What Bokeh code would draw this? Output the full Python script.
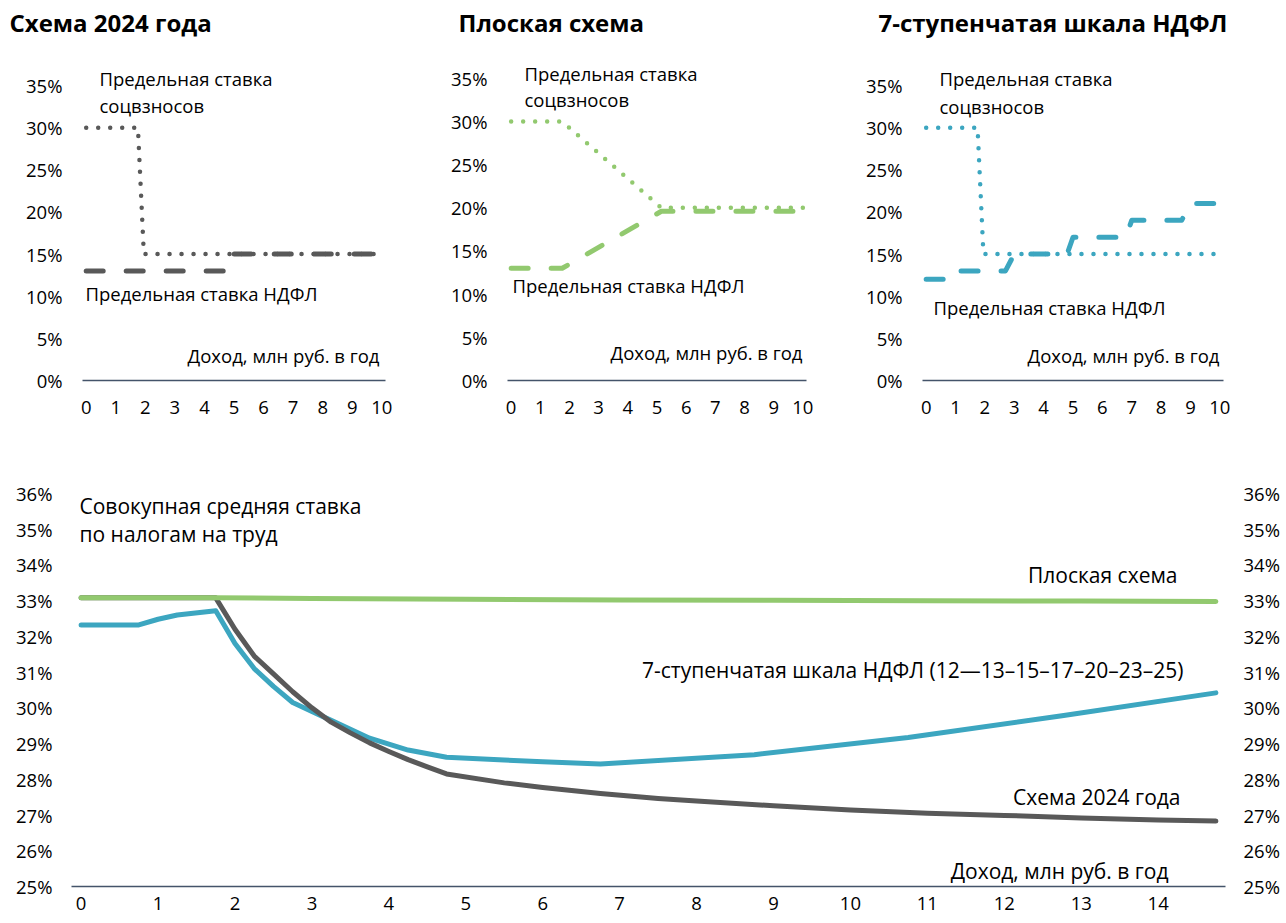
from bokeh.plotting import figure
from bokeh.models import Label, LinearAxis, FixedTicker, PrintfTickFormatter, Range1d
from bokeh.layouts import column, row
from bokeh.embed import file_html
from bokeh.resources import INLINE

FONT = "Open Sans"
TICK_SIZE = "18.5px"
TOP_TEXT = "18.5px"
BOT_TEXT = "21px"
TITLE_SIZE = "24px"

# ---------------- data ----------------
top_x_ticks = list(range(0, 11))
top_y_ticks = [0, 5, 10, 15, 20, 25, 30, 35]
titles = ["Схема 2024 года", "Плоская схема", "7-ступенчатая шкала НДФЛ"]

# Panel 1: scheme 2024
p1_soc_x = [0, 1.75, 1.95, 10]
p1_soc_y = [30, 30, 15, 15]
p1_ndfl_x = [0, 4.8, 5.0, 10]
p1_ndfl_y = [13, 13, 15, 15]

# Panel 2: flat scheme
p2_soc_x = [0, 1.75, 5.15, 10]
p2_soc_y = [30, 30, 20, 20]
p2_ndfl_x = [0, 1.75, 5.15, 10]
p2_ndfl_y = [13, 13, 19.6, 19.6]

# Panel 3: 7-step NDFL scale
p3_soc_x = [0, 1.75, 1.95, 10]
p3_soc_y = [30, 30, 15, 15]
p3_ndfl_x = [0, 0.85, 1.0, 2.7, 3.0, 4.8, 5.0, 6.8, 7.0, 8.7, 9.0, 10]
p3_ndfl_y = [12, 12, 13, 13, 15, 15, 17, 17, 19, 19, 21, 21]

# Bottom: total average rate on labour
bottom_x_ticks = list(range(0, 15))
bottom_y_ticks = list(range(25, 37))

flat_x = [0, 1.75, 3, 5, 7, 9, 11, 13, 14.75]
flat_y = [33.08, 33.08, 33.06, 33.04, 33.02, 33.01, 33.0, 32.99, 32.98]

step7_x = [0, 0.75, 1.0, 1.25, 1.75, 2.0, 2.25, 2.5, 2.75, 3.0, 3.25, 3.75, 4.25, 4.75,
           5.5, 6.0, 6.75, 8.75, 10.75, 12.75, 14.75]
step7_y = [32.32, 32.32, 32.48, 32.6, 32.72, 31.8, 31.1, 30.6, 30.15, 29.9, 29.65, 29.15, 28.82, 28.62,
           28.54, 28.49, 28.43, 28.69, 29.17, 29.78, 30.42]

s2024_x = [0, 1.75, 2.0, 2.25, 2.5, 2.75, 3.0, 3.25, 3.5, 3.75, 4.0, 4.25, 4.5, 4.75,
           5.5, 6.0, 6.75, 7.5, 8.0, 9.0, 10.0, 11.0, 12.0, 13.0, 14.0, 14.75]
s2024_y = [33.08, 33.08, 32.2, 31.45, 30.95, 30.45, 30.0, 29.6, 29.3, 29.02, 28.78, 28.55, 28.35, 28.15,
           27.9, 27.77, 27.6, 27.46, 27.39, 27.26, 27.14, 27.05, 26.99, 26.92, 26.86, 26.83]

GRAY = "#595959"
GREEN = "#92C96F"
TEAL = "#3CA6C0"
AXIS = "#44546A"
TXT = "#000000"


class Geom:
    """Figure placed at page (x0, y0) with size W x H; frame edges L, R, T, B in local px."""
    def __init__(self, x0, y0, W, H, L, R, T, B, xr, yr):
        self.x0, self.y0, self.W, self.H = x0, y0, W, H
        self.L, self.R, self.T, self.B = L, R, T, B
        self.xr, self.yr = xr, yr

    def x(self, px):
        a, b = self.xr
        return a + (px - self.x0 - self.L) / (self.R - self.L) * (b - a)

    def y(self, py):
        a, b = self.yr
        return b - (py - self.y0 - self.T) / (self.B - self.T) * (b - a)


def make_fig(g, axes=True):
    kw = {}
    if not axes:
        kw = dict(x_axis_type=None, y_axis_type=None)
    p = figure(width=g.W, height=g.H, output_backend="svg", toolbar_location=None,
               x_range=Range1d(*g.xr), y_range=Range1d(*g.yr),
               min_border_left=g.L, min_border_right=g.W - g.R,
               min_border_top=g.T, min_border_bottom=g.H - g.B, **kw)
    p.outline_line_color = None
    p.grid.visible = False
    p.border_fill_color = "white"
    p.background_fill_color = "white"
    return p


def style_x(ax, ticks, standoff):
    ax.ticker = FixedTicker(ticks=ticks)
    ax.axis_line_color = AXIS
    ax.axis_line_width = 1.6
    ax.major_tick_line_color = None
    ax.minor_tick_line_color = None
    ax.major_tick_out = 0
    ax.major_tick_in = 0
    ax.major_label_standoff = standoff
    ax.major_label_text_font = FONT
    ax.major_label_text_font_size = TICK_SIZE
    ax.major_label_text_color = TXT


def style_y(ax, ticks, standoff):
    ax.ticker = FixedTicker(ticks=ticks)
    ax.formatter = PrintfTickFormatter(format="%d%%")
    ax.axis_line_color = None
    ax.major_tick_line_color = None
    ax.minor_tick_line_color = None
    ax.major_tick_out = 0
    ax.major_tick_in = 0
    ax.major_label_standoff = standoff
    ax.major_label_text_font = FONT
    ax.major_label_text_font_size = TICK_SIZE
    ax.major_label_text_color = TXT


def add_text(p, g, text, px, py, align="left", bold=False, size=TOP_TEXT):
    p.add_layout(Label(x=g.x(px), y=g.y(py), text=text, text_align=align,
                       text_baseline="middle", text_font=FONT, text_font_size=size,
                       text_font_style="bold" if bold else "normal", text_color=TXT))


def top_geom(x0, W, L, R, zero_px, top_tick_px, frame_top_page=50, y0=45, H=395):
    ymax = 35 * (zero_px - frame_top_page) / (zero_px - top_tick_px)
    return Geom(x0, y0, W, H, L, R, frame_top_page - y0, zero_px - y0,
                (-0.125, 10.125), (0, ymax))


def top_panel(g, soc_x, soc_y, ndfl_x, ndfl_y, color, soc_lbl, ndfl_lbl, inc_lbl):
    p = make_fig(g)
    style_x(p.xaxis[0], top_x_ticks, 20)
    style_y(p.yaxis[0], top_y_ticks, 20)
    p.line(ndfl_x, ndfl_y, line_color=color, line_width=5, line_dash="17 23",
           line_cap="round", line_join="round")
    p.line(soc_x, soc_y, line_color=color, line_width=4.5, line_dash="0 12",
           line_cap="round", line_join="round")
    add_text(p, g, "Предельная ставка", soc_lbl[0], soc_lbl[1])
    add_text(p, g, "соцвзносов", soc_lbl[0], soc_lbl[2])
    add_text(p, g, "Предельная ставка НДФЛ", ndfl_lbl[0], ndfl_lbl[1])
    add_text(p, g, "Доход, млн руб. в год", inc_lbl[0], inc_lbl[1], align="right")
    return p


# ---------------- title strip (three blank figures, one per panel) ----------------
title_figs = []
for t, x0, W, px in zip(titles, [0, 430, 858], [430, 428, 428], [9, 458, 878]):
    gt = Geom(x0, 0, W, 45, 0, W, 0, 45, (0, W), (0, 45))
    pt = make_fig(gt, axes=False)
    add_text(pt, gt, t, px, 22, bold=True, size=TITLE_SIZE)
    title_figs.append(pt)

# ---------------- top panels ----------------
g1 = top_geom(0, 430, 82, 385, 380, 85)
g2 = top_geom(430, 428, 77, 376, 382, 78)
g3 = top_geom(858, 428, 64, 365, 380, 85)

p1 = top_panel(g1, p1_soc_x, p1_soc_y, p1_ndfl_x, p1_ndfl_y, GRAY,
               (99, 78, 105), (85, 293), (379, 355))
p2 = top_panel(g2, p2_soc_x, p2_soc_y, p2_ndfl_x, p2_ndfl_y, GREEN,
               (524, 73, 99), (512, 286), (802, 354))
p3 = top_panel(g3, p3_soc_x, p3_soc_y, p3_ndfl_x, p3_ndfl_y, TEAL,
               (939, 78, 106), (933, 307), (1219, 355))

# ---------------- bottom chart ----------------
bot_top_page = 478
bot_ymax = 25 + 11 * (886 - bot_top_page) / (886 - 493)
g4 = Geom(0, 440, 1286, 483, 71, 1225, bot_top_page - 440, 446, (-0.125, 14.875), (25, bot_ymax))
p4 = make_fig(g4)
style_x(p4.xaxis[0], bottom_x_ticks, 10)
style_y(p4.yaxis[0], bottom_y_ticks, 19)
ry = LinearAxis()
style_y(ry, bottom_y_ticks, 18)
p4.add_layout(ry, "right")

p4.line(step7_x, step7_y, line_color=TEAL, line_width=5, line_join="round", line_cap="round")
p4.line(s2024_x, s2024_y, line_color=GRAY, line_width=5, line_join="round", line_cap="round")
p4.line(flat_x, flat_y, line_color=GREEN, line_width=5, line_join="round", line_cap="round")

add_text(p4, g4, "Совокупная средняя ставка", 79, 505, size=BOT_TEXT)
add_text(p4, g4, "по налогам на труд", 79, 533, size=BOT_TEXT)
add_text(p4, g4, "Плоская схема", 1177, 574, align="right", size=BOT_TEXT)
add_text(p4, g4, "7-ступенчатая шкала НДФЛ (12—13–15–17–20–23–25)", 1183, 669,
         align="right", size=BOT_TEXT)
add_text(p4, g4, "Схема 2024 года", 1180, 796, align="right", size=BOT_TEXT)
add_text(p4, g4, "Доход, млн руб. в год", 1168, 870, align="right", size=BOT_TEXT)

layout = column(row(*title_figs), row(p1, p2, p3), p4)
open("out.html", "w").write(file_html(layout, INLINE))
